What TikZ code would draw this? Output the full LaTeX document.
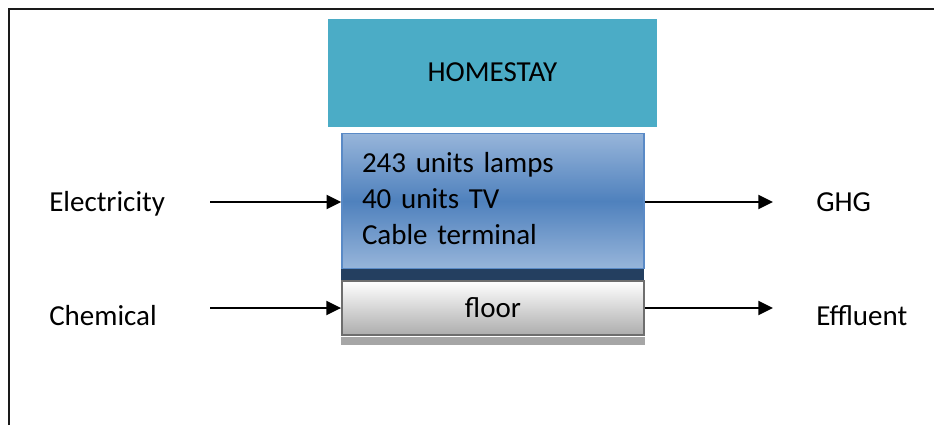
\documentclass[tikz,border=0pt]{standalone}
\usepackage{fontspec}
\setmainfont{Carlito}
\usetikzlibrary{arrows.meta}

\tikzstyle{flow-arrow}=[line width=1.5pt, -{Triangle[length=11pt, width=10.5pt]}]
\tikzstyle{side-label}=[inner sep=0pt, anchor=base west]
\tikzstyle{equip-box}=[draw=EquipBorder, line width=1.1pt, top color=EquipLight, bottom color=EquipLight, middle color=EquipDark, minimum width=226.5pt, minimum height=101.25pt, text width=196.5pt, inner xsep=15pt, align=left, text depth=58.5pt]
\tikzstyle{floor-box}=[draw=FloorBorder, line width=1.4pt, top color=white, bottom color=FloorGray, minimum width=226.5pt, minimum height=40.5pt]
\definecolor{FrameBlack}{HTML}{1a1a1a}
\definecolor{HomeTeal}{HTML}{4BACC6}
\definecolor{EquipLight}{HTML}{97B5DA}
\definecolor{EquipDark}{HTML}{4F81BD}
\definecolor{EquipBorder}{HTML}{5A8AC6}
\definecolor{BandBlue}{HTML}{243F60}
\definecolor{FloorBorder}{HTML}{6E6E6E}
\definecolor{FloorGray}{HTML}{ADADAD}
\definecolor{ShadowGray}{HTML}{A6A6A6}

\begin{document}
\begin{tikzpicture}[x=0.75pt, y=-0.75pt, font={\fontsize{21.75}{27}\selectfont}]
      \useasboundingbox (0,0) rectangle (934,425);
      \draw[line width=1.6pt, FrameBlack] (9,425) -- (9,9) -- (934,9);

      \node (box-homestay) at (492.5,72.5) [fill=HomeTeal, minimum width=246.75pt, minimum height=81pt] {HOMESTAY};
      \node (box-equip) at (493,201) [equip-box] {243 units lamps\\40 units TV\\Cable terminal};
      \node (box-band) at (492.5,274.5) [fill=BandBlue, inner sep=0pt, minimum width=227.25pt, minimum height=8.25pt] {};
      \node (box-floor) at (493,308) [floor-box] {floor};
      \fill[ShadowGray] ([yshift=-0.7pt]box-floor.south west) rectangle ([yshift=-6.5pt]box-floor.south east);

      \node (label-elec) at (49,211.5) [side-label] {Electricity};
      \node (label-chem) at (49,325) [side-label] {Chemical};
      \node (label-ghg) at (816,211.5) [side-label] {GHG};
      \node (label-eff) at (816,325) [side-label] {Effluent};

      \coordinate (in-elec) at (210,202);
      \coordinate (in-chem) at (210,308);
      \coordinate (out-ghg) at (773,202);
      \coordinate (out-eff) at (773,308);
      \draw[flow-arrow] (in-elec) -- (in-elec -| box-equip.west);
      \draw[flow-arrow] (in-chem) -- (in-chem -| box-floor.west);
      \draw[flow-arrow] (out-ghg -| box-equip.east) -- (out-ghg);
      \draw[flow-arrow] (out-eff -| box-floor.east) -- (out-eff);
    \end{tikzpicture}
\end{document}
